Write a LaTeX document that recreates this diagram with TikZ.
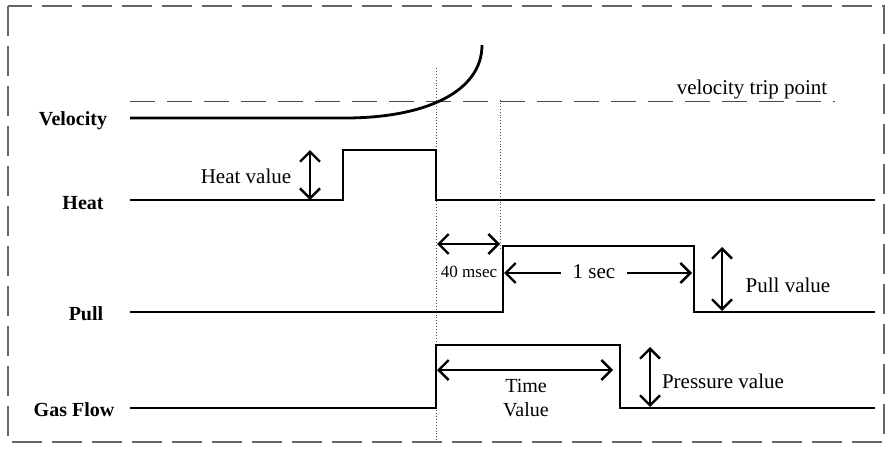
\documentclass[tikz,border=0pt]{standalone}
\usepackage{fontspec}
\setmainfont{Liberation Serif}
\usetikzlibrary{arrows.meta}
\begin{document}
\begin{tikzpicture}[x=1pt,y=-1pt,
  sig/.style={line width=2.8pt,line join=miter},
  dim/.style={line width=2.4pt,{Straight Barb[length=10pt,width=20pt,line width=2.4pt]}-{Straight Barb[length=10pt,width=20pt,line width=2.4pt]}},
  lbl/.style={font=\fontsize{20}{22}\selectfont\bfseries,anchor=center},
  txt/.style={font=\fontsize{21}{23}\selectfont,inner sep=1pt},
  guide/.style={line width=0.9pt,dotted,black!70},
  frame/.style={line width=1.2pt,dashed,dash pattern=on 30pt off 10pt,black!60}]
\useasboundingbox (0,0) rectangle (889,453);
\draw[frame] (8,6) rectangle (884,442);
% guides
\coordinate (g1t) at (436,68); \coordinate (g1b) at (436,440);
\coordinate (g2t) at (500,100); \coordinate (g2b) at (500,250);
\draw[guide] (g1t) -- (g1b);
\draw[guide] (g2t) -- (g2b);
\coordinate (tp1) at (130,101); \coordinate (tp2) at (835,101);
\draw[line width=0.9pt,dashed,dash pattern=on 25pt off 12pt,black!70] (tp1) -- (tp2);
\node[txt] (trip) at (752,89) {velocity trip point};
% Velocity
\node[lbl] (vel) at (73,121) {Velocity};
\coordinate (v0) at (130,118); \coordinate (v1) at (345,118); \coordinate (v2) at (482,45);
\draw[sig] (v0) -- (v1) .. controls (425,118) and (482,92) .. (v2);
% Heat
\node[lbl] (heat) at (83,203) {Heat};
\coordinate (h0) at (130,200); \coordinate (h1) at (343,200); \coordinate (h2) at (343,150);
\coordinate (h3) at (436,150); \coordinate (h4) at (436,200); \coordinate (h5) at (875,200);
\draw[sig] (h0) -- (h1) -- (h2) -- (h3) -- (h4) -- (h5);
\coordinate (hv1) at (310,150); \coordinate (hv2) at (310,200);
\draw[dim] (hv1) -- (hv2);
\node[txt] (hvl) at (246,176) {Heat value};
% 40 msec
\coordinate (m1) at (437,244); \coordinate (m2) at (500,244);
\draw[dim] (m1) -- (m2);
\node[txt,font=\fontsize{17}{19}\selectfont] (ms) at (469,272) {40 msec};
% Pull
\node[lbl] (pull) at (86,314) {Pull};
\coordinate (p0) at (130,312); \coordinate (p1) at (503,312); \coordinate (p2) at (503,246);
\coordinate (p3) at (694,246); \coordinate (p4) at (694,312); \coordinate (p5) at (875,312);
\draw[sig] (p0) -- (p1) -- (p2) -- (p3) -- (p4) -- (p5);
\coordinate (s1) at (504,273); \coordinate (s2) at (692,273);
\node[txt,inner xsep=12pt] (sec) at (594,272) {1 sec};
\draw[line width=2.4pt,{Straight Barb[length=10pt,width=20pt,line width=2.4pt]}-] (s1) -- (sec.west |- s1);
\draw[line width=2.4pt,-{Straight Barb[length=10pt,width=20pt,line width=2.4pt]}] (sec.east |- s2) -- (s2);
\coordinate (pv1) at (722,247); \coordinate (pv2) at (722,311);
\draw[dim] (pv1) -- (pv2);
\node[txt] (pvl) at (788,285) {Pull value};
% Gas Flow
\node[lbl] (gas) at (74,410) {Gas Flow};
\coordinate (f0) at (130,408); \coordinate (f1) at (436,408); \coordinate (f2) at (436,345);
\coordinate (f3) at (620,345); \coordinate (f4) at (620,408); \coordinate (f5) at (875,408);
\draw[sig] (f0) -- (f1) -- (f2) -- (f3) -- (f4) -- (f5);
\coordinate (t1) at (437,370); \coordinate (t2) at (613,370);
\draw[dim] (t1) -- (t2);
\node[txt,align=center,font=\fontsize{20}{24}\selectfont] (tv) at (526,398) {Time\\Value};
\coordinate (pr1) at (650,347); \coordinate (pr2) at (650,407);
\draw[dim] (pr1) -- (pr2);
\node[txt] (prl) at (723,381) {Pressure value};
\end{tikzpicture}
\end{document}
